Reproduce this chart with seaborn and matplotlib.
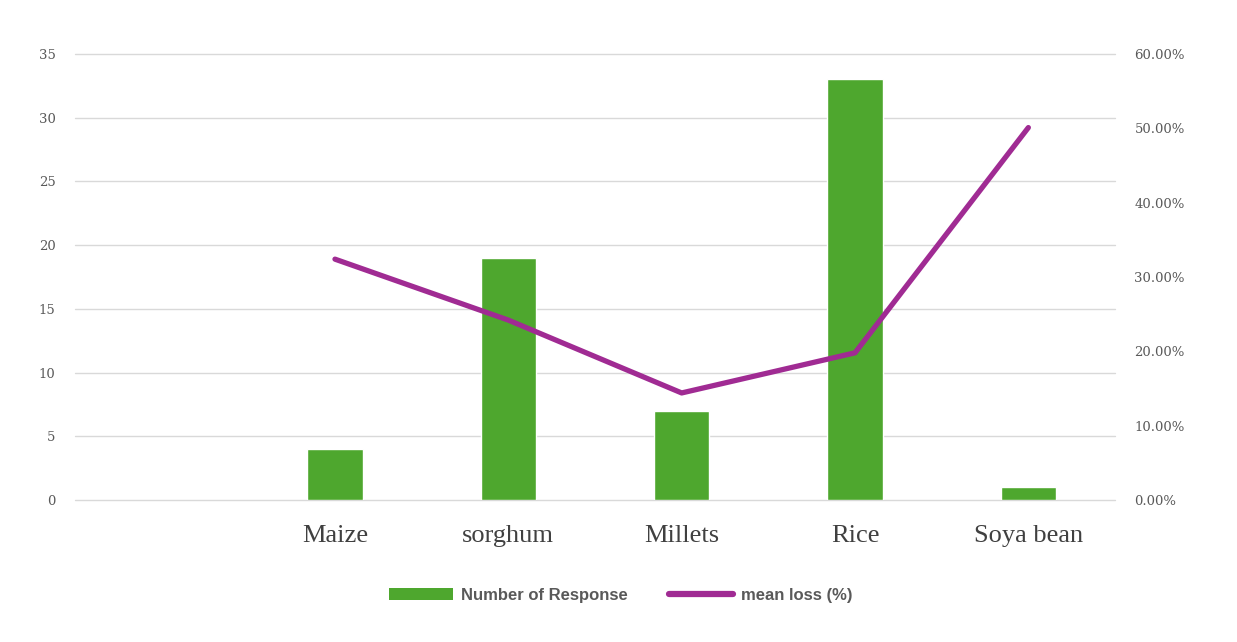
import matplotlib
matplotlib.use("Agg")
import matplotlib.pyplot as plt
from matplotlib.patches import Patch
from matplotlib.lines import Line2D
from matplotlib.ticker import FuncFormatter, MultipleLocator
import seaborn as sns
import pandas as pd

# Crop categories (the leading blank slot is an empty category on the axis)
categories = ["", "Maize", "sorghum", "Millets", "Rice", "Soya bean"]
crops = ["Maize", "sorghum", "Millets", "Rice", "Soya bean"]
responses = [4, 19, 7, 33, 1]
mean_loss = [0.324, 0.242, 0.144, 0.198, 0.501]

GREEN = "#4EA72E"
PURPLE = "#A02B93"
GRID = "#D9D9D9"
TEXT = "#595959"

sns.set_theme(style="white")

df = pd.DataFrame({"crop": crops, "responses": responses, "loss": mean_loss})

fig = plt.figure(figsize=(12.37, 6.42), dpi=100)
fig.patch.set_facecolor("white")
ax = fig.add_axes([0.0606, 0.2212, 0.8408, 0.6947])

sns.barplot(data=df, x="crop", y="responses", order=categories, color=GREEN,
            saturation=1, width=0.32, ax=ax)
ax.set_ylim(0, 35)
ax.yaxis.set_major_locator(MultipleLocator(5))
ax.set_xlim(-0.5, len(categories) - 0.5)
ax.grid(axis="y", color=GRID, linewidth=1)
ax.set_axisbelow(True)
for s in ax.spines.values():
    s.set_visible(False)
ax.set_xlabel("")
ax.set_ylabel("")
ax.tick_params(axis="y", length=0, pad=14, labelsize=9.5, labelcolor=TEXT,
               labelfontfamily="DejaVu Serif")
ax.tick_params(axis="x", length=0, pad=18, labelsize=19, labelcolor="#404040",
               labelfontfamily="Liberation Serif")
for gl in ax.yaxis.get_gridlines():
    gl.set_clip_on(False)

ax2 = ax.twinx()
xpos = [categories.index(c) for c in crops]
ax2.plot(xpos, mean_loss, color=PURPLE, linewidth=3.8,
         solid_capstyle="round", solid_joinstyle="round")
ax2.set_ylim(0, 0.6)
ax2.yaxis.set_major_locator(MultipleLocator(0.1))
ax2.yaxis.set_major_formatter(FuncFormatter(lambda v, p: f"{v*100:.2f}%"))
ax2.set_xlim(-0.5, len(categories) - 0.5)
ax2.grid(False)
for s in ax2.spines.values():
    s.set_visible(False)
ax2.set_ylabel("")
ax2.tick_params(axis="y", length=0, pad=14, labelsize=9.5, labelcolor=TEXT,
                labelfontfamily="DejaVu Serif")

handles = [
    Patch(facecolor=GREEN, edgecolor="none", label="Number of Response"),
    Line2D([0], [0], color=PURPLE, linewidth=4.5, solid_capstyle="round",
           label="mean loss (%)"),
]
fig.legend(handles=handles, loc="center", bbox_to_anchor=(0.502, 0.073), ncol=2,
           frameon=False, handlelength=3.8, handleheight=0.7, handletextpad=0.5,
           columnspacing=2.5,
           prop={"family": "Liberation Sans", "weight": "bold", "size": 12},
           labelcolor=TEXT)

fig.savefig("out.png", dpi=100, facecolor="white")
